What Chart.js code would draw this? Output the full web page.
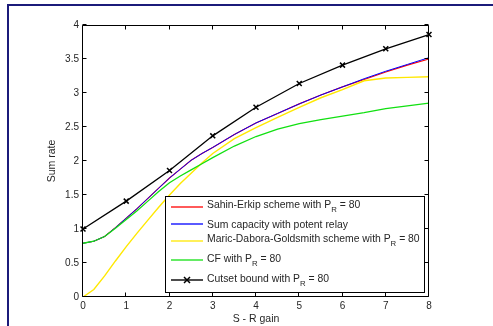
<!DOCTYPE html>
<html><head><meta charset="utf-8">
<script src="https://cdn.jsdelivr.net/npm/chart.js@4/dist/chart.umd.min.js"></script>
<style>
html,body{margin:0;padding:0;background:#fff;}
#wrap{position:relative;width:493px;height:326px;overflow:hidden;background:#fff;}
#frame{position:absolute;left:7px;top:4px;width:600px;height:400px;border-top:2px solid #1b1b7a;border-left:2px solid #1b1b7a;}
canvas{position:absolute;left:0;top:0;}
</style></head><body>
<div id="wrap"><div id="frame"></div><canvas id="c" width="493" height="326"></canvas></div>
<script>
// ---- data ----
const sGain       = [0,0.25,0.5,0.75,1,1.25,1.5,1.75,2,2.25,2.5,2.75,3,3.5,4,4.5,5,5.5,6,6.5,7,7.5,8];
const sumCapacity = [0.79,0.82,0.89,1.02,1.16,1.30,1.45,1.60,1.75,1.88,2.01,2.11,2.20,2.39,2.56,2.70,2.84,2.97,3.09,3.21,3.32,3.42,3.52];
const sahinErkip  = [0.79,0.82,0.89,1.02,1.16,1.30,1.45,1.60,1.75,1.88,2.01,2.11,2.20,2.39,2.56,2.70,2.84,2.97,3.09,3.20,3.31,3.41,3.50];
const maricDG     = [0.00,0.11,0.31,0.53,0.74,0.94,1.13,1.32,1.50,1.67,1.82,1.97,2.11,2.33,2.49,2.64,2.79,2.93,3.05,3.18,3.22,3.23,3.24];
const cfRate      = [0.79,0.82,0.89,1.01,1.14,1.27,1.41,1.55,1.68,1.78,1.87,1.96,2.05,2.22,2.36,2.47,2.55,2.61,2.66,2.71,2.77,2.81,2.85];
const cutsetGain  = [0,1,2,3,4,5,6,7,8];
const cutsetBound = [1.00,1.41,1.86,2.37,2.79,3.14,3.41,3.65,3.86];
const xTicks = [0,1,2,3,4,5,6,7,8];
const yTicks = [0,0.5,1,1.5,2,2.5,3,3.5,4];
const legendMain = ["Sahin-Erkip scheme with P","Sum capacity with potent relay","Maric-Dabora-Goldsmith scheme with P","CF with P","Cutset bound with P"];
const legendSub  = ["R","","R","R","R"];
const legendTail = [" = 80",""," = 80"," = 80"," = 80"];
const xTitle = "S - R gain";
const yTitle = "Sum rate";

const pts = (xs, ys) => xs.map((x,i)=>({x:x,y:ys[i]}));
const FONT = "'Liberation Sans', Arial, sans-serif";
const TXT = "#262626";
const FS = 10;
const LFS = 10.4;

const styles = [
  {color:'#ff0000', order:4},
  {color:'#0000ff', order:3},
  {color:'#ffe800', order:2},
  {color:'#11e011', order:1},
  {color:'#000000', order:0}
];

const boxTicks = {
  id:'boxTicks',
  afterDatasetsDraw(chart){
    const {ctx, chartArea:a, scales:{x,y}} = chart;
    ctx.save();
    ctx.strokeStyle = '#000'; ctx.lineWidth = 1;
    ctx.beginPath();
    const L = Math.round(a.left)-0.5, R = Math.round(a.right)-0.5, T = Math.round(a.top)+0.5, B = Math.round(a.bottom)-0.5;
    ctx.rect(L, T, R-L, B-T);
    xTicks.forEach(v=>{ const p = Math.round(x.getPixelForValue(v))-0.5; ctx.moveTo(p,B); ctx.lineTo(p,B-4); ctx.moveTo(p,T); ctx.lineTo(p,T+4); });
    yTicks.forEach(v=>{ const p = Math.round(y.getPixelForValue(v))-0.5; ctx.moveTo(L,p); ctx.lineTo(L+4,p); ctx.moveTo(R,p); ctx.lineTo(R-4,p); });
    ctx.stroke();

    // legend
    const bx = a.left + 82, by = a.top + 171, bw = 259, bh = 96;
    ctx.fillStyle = '#fff';
    ctx.fillRect(bx, by, bw, bh);
    ctx.strokeStyle = '#000'; ctx.lineWidth = 1;
    ctx.strokeRect(bx+0.5, by+0.5, bw, bh);
    const textMid = [8, 28, 42, 62, 82];
    const lineY   = [11, 28, 45, 64, 84];
    for (let i=0;i<legendMain.length;i++){
      const ly = by + lineY[i];
      ctx.strokeStyle = styles[i].color; ctx.lineWidth = (i===4)?1.4:1.3;
      ctx.beginPath(); ctx.moveTo(bx+6, ly); ctx.lineTo(bx+38, ly); ctx.stroke();
      if (i===4){
        const cx = bx+22, r=3;
        ctx.lineWidth = 1.5;
        ctx.beginPath(); ctx.moveTo(cx-r,ly-r); ctx.lineTo(cx+r,ly+r); ctx.moveTo(cx+r,ly-r); ctx.lineTo(cx-r,ly+r); ctx.stroke();
      }
      const base = by + textMid[i] + 4;
      let tx = bx + 42;
      ctx.fillStyle = TXT; ctx.textBaseline = 'alphabetic'; ctx.textAlign='left';
      ctx.font = LFS + "px " + FONT;
      ctx.fillText(legendMain[i], tx, base);
      tx += ctx.measureText(legendMain[i]).width;
      if (legendSub[i]){
        ctx.font = "7.8px " + FONT;
        ctx.fillText(legendSub[i], tx, base+4);
        tx += ctx.measureText(legendSub[i]).width;
        ctx.font = LFS + "px " + FONT;
        ctx.fillText(legendTail[i], tx, base);
      }
    }
    ctx.restore();
  }
};

new Chart(document.getElementById('c'), {
  type:'line',
  data:{
    datasets:[
      {label:legendMain[0]+legendSub[0]+legendTail[0], data:pts(sGain,sahinErkip), borderColor:styles[0].color, order:styles[0].order, borderWidth:1.1, pointRadius:0},
      {label:legendMain[1], data:pts(sGain,sumCapacity), borderColor:styles[1].color, order:styles[1].order, borderWidth:1.0, pointRadius:0},
      {label:legendMain[2]+legendSub[2]+legendTail[2], data:pts(sGain,maricDG), borderColor:styles[2].color, order:styles[2].order, borderWidth:1.4, pointRadius:0},
      {label:legendMain[3]+legendSub[3]+legendTail[3], data:pts(sGain,cfRate), borderColor:styles[3].color, order:styles[3].order, borderWidth:1.3, pointRadius:0},
      {label:legendMain[4]+legendSub[4]+legendTail[4], data:pts(cutsetGain,cutsetBound), borderColor:styles[4].color, order:styles[4].order, borderWidth:1.3,
        pointStyle:'crossRot', pointRadius:3.5, pointBorderWidth:1.5, pointBorderColor:'#000', pointBackgroundColor:'#000', clip:false}
    ]
  },
  options:{
    responsive:false, animation:false, devicePixelRatio:1,
    layout:{padding:{left:0, top:25, right:64, bottom:0}},
    plugins:{legend:{display:false}, tooltip:{enabled:false}},
    elements:{line:{tension:0}},
    scales:{
      x:{type:'linear', min:0, max:8,
        afterBuildTicks(s){ s.ticks = xTicks.map(v=>({value:v})); },
        afterFit(s){ s.height = 29; },
        grid:{display:false, drawTicks:false}, border:{display:false},
        ticks:{padding:3, color:TXT, font:{family:FONT, size:FS}, maxRotation:0, callback:(v)=>String(v)},
        title:{display:true, text:xTitle, color:TXT, font:{family:FONT, size:10.5}, padding:{top:0,bottom:1}}
      },
      y:{type:'linear', min:0, max:4,
        afterBuildTicks(s){ s.ticks = yTicks.map(v=>({value:v})); },
        afterFit(s){ s.width = 83; },
        grid:{display:false, drawTicks:false}, border:{display:false},
        ticks:{padding:4, color:TXT, font:{family:FONT, size:FS}, callback:(v)=>String(v)},
        title:{display:true, text:yTitle, color:TXT, font:{family:FONT, size:10.5}, padding:{top:46,bottom:0}}
      }
    }
  },
  plugins:[boxTicks]
});
</script>
</body></html>
